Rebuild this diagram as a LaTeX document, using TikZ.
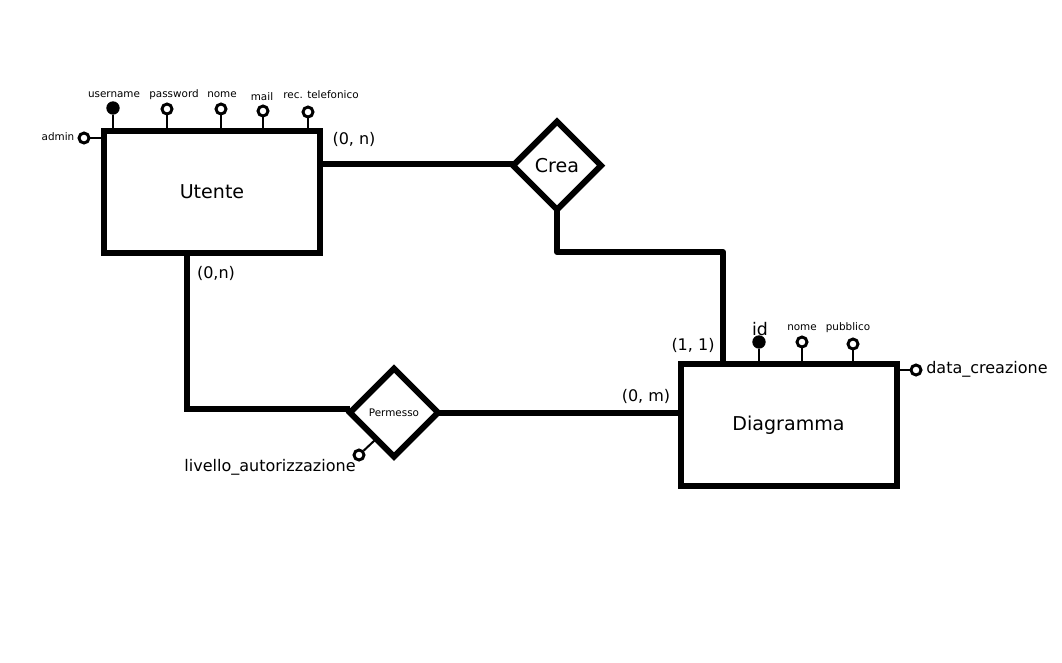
\documentclass[tikz,border=0pt]{standalone}
\usepackage{fontspec}
\setmainfont{DejaVu Sans}
\usetikzlibrary{shapes.geometric}
\begin{document}
\begin{tikzpicture}[x=0.75pt,y=-0.75pt,
  entity/.style={draw,line width=4.5pt,minimum width=216*0.75pt,minimum height=122*0.75pt,font=\fontsize{14.3}{16}\selectfont,inner sep=0pt},
  rel/.style={draw,diamond,line width=4.5pt,minimum width=88*0.75pt,minimum height=88*0.75pt,inner sep=0pt,outer sep=0pt,aspect=1,fill=white},
  conn/.style={line width=4.5pt},
  attrline/.style={line width=1.5pt},
  keyattr/.style={circle,fill=black,draw,line width=1pt,minimum size=9pt,inner sep=0pt},
  attr/.style={circle,fill=white,draw,line width=2.2pt,minimum size=7.5pt,inner sep=0pt},
  tiny/.style={font=\fontsize{7.8}{9}\selectfont,inner sep=0pt},
  card/.style={font=\fontsize{12}{14}\selectfont,inner sep=0pt}]
\useasboundingbox (0,0) rectangle (1062,662);
% entities
\node[entity] (ut) at (212,191.5) {Utente};
\node[entity] (dg) at (788.5,425) {Diagramma};
% connectors (drawn under the relationship diamonds)
\coordinate (c0) at (320,164);
\coordinate (c1) at (557,252);
\coordinate (c2) at (723,252);
\coordinate (p0) at (187,253);
\coordinate (p1) at (187,409);
\coordinate (p2) at (438,413);
% relationships
\node[rel,font=\fontsize{14.3}{16}\selectfont] (crea) at (557,165.5) {Crea};
\node[rel,font=\fontsize{7.8}{9}\selectfont] (perm) at (394,412.5) {Permesso};
\draw[conn] (c0) -- (crea.west |- c0);
\draw[conn,line join=round] (crea.south) -- (c1) -- (c2) -- (c2 |- dg.north);
\draw[conn,line join=miter] (p0) -- (p1) -- (perm.west |- p1);
\draw[conn] (perm.east |- p2) -- (dg.west |- p2);
% Utente attributes
\node[keyattr] (a1) at (113,108) {};
\node[attr] (a2) at (167,109) {};
\node[attr] (a3) at (221,109) {};
\node[attr] (a4) at (263,111) {};
\node[attr] (a5) at (308,112) {};
\node[attr] (a6) at (84,138) {};
\foreach \a in {a1,a2,a3,a4,a5} \draw[attrline] (\a) -- (\a |- ut.north);
\draw[attrline] (a6) -- (ut.west |- a6);
\node[tiny] (l1) at (114,95) {username};
\node[tiny] (l2) at (174,95) {password};
\node[tiny] (l3) at (222,95) {nome};
\node[tiny] (l4) at (262,96.5) {mail};
\node[tiny] (l5) at (321,95) {rec. telefonico};
\node[tiny] (l6) at (58,137) {admin};
% Diagramma attributes
\node[keyattr] (d1) at (759,342) {};
\node[attr] (d2) at (802,342) {};
\node[attr] (d3) at (853,344) {};
\node[attr] (d4) at (916,370) {};
\foreach \a in {d1,d2,d3} \draw[attrline] (\a) -- (\a |- dg.north);
\draw[attrline] (d4) -- (dg.east |- d4);
\node[card,font=\fontsize{13}{15}\selectfont] (m1) at (760,329) {id};
\node[tiny] (m2) at (802,328) {nome};
\node[tiny] (m3) at (848,328) {pubblico};
\node[card,anchor=west] (m4) at (926,369) {data\_creazione};
% Permesso attribute
\node[attr] (p) at (359,455) {};
\draw[attrline] (p) -- (375,440);
\node[card] (pl) at (270,467) {livello\_autorizzazione};
% cardinalities
\node[card] (k1) at (354,139) {(0, n)};
\node[card] (k2) at (216,273) {(0,n)};
\node[card] (k3) at (693,345) {(1, 1)};
\node[card] (k4) at (646,396) {(0, m)};
\end{tikzpicture}
\end{document}
